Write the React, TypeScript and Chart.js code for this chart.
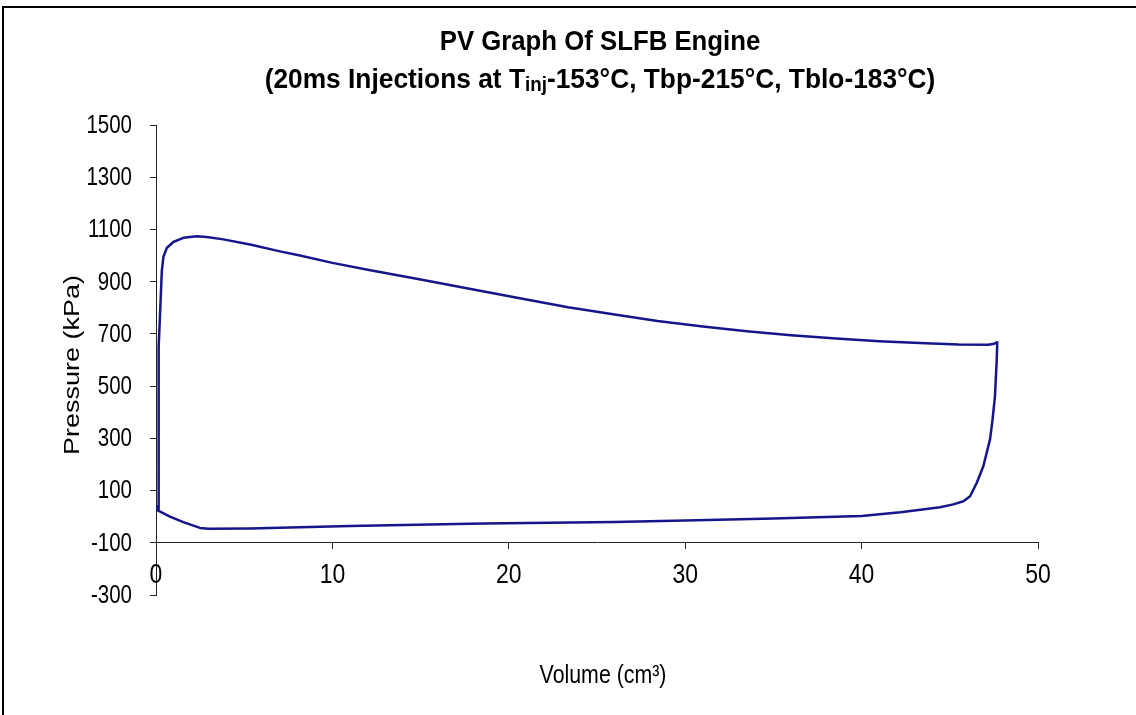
import React, { useEffect, useRef } from "react";
import { Chart, registerables } from "chart.js";

Chart.register(...registerables);

// One engine cycle, traced as a closed loop: compression stroke up the left,
// expansion along the top, blow-down on the right, exhaust along the bottom.
const volumeCm3 = [
  0.0, 0.05, 0.13, 0.13, 0.17, 0.22, 0.28, 0.33, 0.42, 0.61, 0.98, 1.55, 2.31, 2.87,
  3.82, 5.33, 7.03, 8.16, 10.0, 12.0, 15.0, 18.29, 21.0, 23.36, 26.0, 28.43, 31.0, 33.49, 36.0,
  38.56, 41.0, 43.63, 45.5, 47.17, 47.45,
  47.69, 47.66, 47.56, 47.42, 47.28, 46.9, 46.53, 46.15, 45.77, 45.2, 44.44, 43.0, 42.2, 40.0,
  37.5, 35.0, 30.0, 26.0, 22.3, 18.55, 14.78, 11.0, 8.16, 5.33, 2.97, 2.49, 1.55, 0.79, 0.07,
];
const pressureKPa = [
  40, 26, 28, 450, 650, 760, 860, 940, 995, 1029, 1052, 1068, 1074, 1071,
  1062, 1042, 1016, 1000, 972, 946, 908, 866, 832, 802, 774, 749, 728, 710, 695,
  682, 672, 664, 659, 658, 661,
  668, 600, 461, 370, 296, 193, 130, 78, 59, 47, 36, 24, 17, 3,
  -2, -7, -15, -20, -23, -26, -31, -36, -41, -45, -46, -43, -21, 0, 25,
];

const xMin = 0;
const xMax = 50;
const xStep = 10;
const yMin = -300;
const yMax = 1500;
const yStep = 200;
const xAxisCrossing = -100;

const titleLine1 = "PV Graph Of SLFB Engine";
const titleLine2 = [
  { text: "(20ms Injections at T", sub: false },
  { text: "inj", sub: true },
  { text: "-153°C, Tbp-215°C, Tblo-183°C)", sub: false },
];
const xTitle = "Volume (cm³)";
const yTitle = "Pressure (kPa)";

const FONT = "'Liberation Sans', Arial, sans-serif";
// text in this chart is set in a condensed Arial look
const SQUEEZE = 0.82;
const LINE_COLOR = "#16168c";

const fmt = (v: number) => String(Math.round(v));

function squeezedText(
  ctx: CanvasRenderingContext2D,
  text: string,
  x: number,
  y: number,
  font: string,
  align: CanvasTextAlign,
  baseline: CanvasTextBaseline,
  sx: number,
) {
  ctx.save();
  ctx.translate(x, y);
  ctx.scale(sx, 1);
  ctx.font = font;
  ctx.textAlign = align;
  ctx.textBaseline = baseline;
  ctx.fillText(text, 0, 0);
  ctx.restore();
}

const decorations = {
  id: "decorations",
  beforeDraw(chart: any) {
    const { ctx, width, height } = chart;
    ctx.save();
    ctx.fillStyle = "#ffffff";
    ctx.fillRect(0, 0, width, height);
    // frame (top and left edges)
    ctx.fillStyle = "#000000";
    ctx.fillRect(2, 6, width, 2);
    ctx.fillRect(2, 6, 2, height);
    ctx.restore();
  },
  afterDraw(chart: any) {
    const { ctx } = chart;
    const xs = chart.scales.x;
    const ys = chart.scales.y;
    ctx.save();
    ctx.fillStyle = "#000000";

    // tick labels, placed by the chart's own scales
    for (const t of ys.ticks) {
      const py = ys.getPixelForValue(t.value);
      squeezedText(ctx, fmt(t.value), ys.right - 24, py + 1, `25px ${FONT}`, "right", "middle", SQUEEZE);
    }
    const axisY = ys.getPixelForValue(xAxisCrossing);
    for (const t of xs.ticks) {
      const px = xs.getPixelForValue(t.value);
      squeezedText(ctx, fmt(t.value), px, axisY + 19, `28px ${FONT}`, "center", "top", SQUEEZE);
    }

    // title, line 1
    squeezedText(ctx, titleLine1, 600, 50, `bold 28px ${FONT}`, "center", "alphabetic", 0.92);

    // title, line 2 with subscript
    ctx.save();
    ctx.translate(600, 88);
    ctx.scale(0.94, 1);
    ctx.textAlign = "left";
    ctx.textBaseline = "alphabetic";
    const big = `bold 28px ${FONT}`;
    const small = `bold 20px ${FONT}`;
    let total = 0;
    for (const seg of titleLine2) {
      ctx.font = seg.sub ? small : big;
      total += ctx.measureText(seg.text).width;
    }
    let x = -total / 2;
    for (const seg of titleLine2) {
      ctx.font = seg.sub ? small : big;
      ctx.fillText(seg.text, x, seg.sub ? 3 : 0);
      x += ctx.measureText(seg.text).width;
    }
    ctx.restore();

    // y axis title
    ctx.save();
    ctx.translate(73, 365);
    ctx.rotate(-Math.PI / 2);
    ctx.scale(1, SQUEEZE);
    ctx.font = `27px ${FONT}`;
    ctx.textAlign = "center";
    ctx.textBaseline = "middle";
    ctx.fillText(yTitle, 0, 0);
    ctx.restore();

    // x axis title
    squeezedText(ctx, xTitle, 603, 683, `26px ${FONT}`, "center", "alphabetic", SQUEEZE);

    ctx.restore();
  },
};

export default function App() {
  const canvasRef = useRef<HTMLCanvasElement | null>(null);

  useEffect(() => {
    const canvas = canvasRef.current;
    if (!canvas) return;
    const points = volumeCm3.map((v, i) => ({ x: v, y: pressureKPa[i] }));
    const chart = new Chart(canvas, {
      type: "scatter",
      data: {
        datasets: [
          {
            data: points,
            showLine: true,
            borderColor: LINE_COLOR,
            borderWidth: 2.5,
            borderJoinStyle: "round",
            pointRadius: 0,
            tension: 0,
            fill: false,
          },
        ],
      },
      options: {
        animation: false,
        responsive: false,
        maintainAspectRatio: false,
        layout: { padding: { top: 125, bottom: 120, right: 98, left: 0 } },
        plugins: {
          legend: { display: false },
          tooltip: { enabled: false },
          title: { display: false },
        },
        scales: {
          x: {
            type: "linear",
            min: xMin,
            max: xMax,
            position: { y: xAxisCrossing } as any,
            ticks: { stepSize: xStep, display: false },
            grid: {
              drawOnChartArea: false,
              drawTicks: true,
              tickLength: 6,
              color: "#222222",
            },
            border: { display: true, color: "#222222", width: 1 },
          },
          y: {
            type: "linear",
            min: yMin,
            max: yMax,
            position: "left",
            ticks: { stepSize: yStep, display: false },
            grid: {
              drawOnChartArea: false,
              drawTicks: true,
              tickLength: 6,
              color: "#222222",
            },
            border: { display: true, color: "#222222", width: 1 },
            afterFit: (scale: any) => {
              scale.width = 156;
            },
          },
        },
      },
      plugins: [decorations],
    });
    return () => chart.destroy();
  }, []);

  return (
    <div style={{ position: "absolute", left: 0, top: 0, width: 1136, height: 715, background: "#fff" }}>
      <canvas ref={canvasRef} width={1136} height={715} style={{ display: "block" }} />
    </div>
  );
}
